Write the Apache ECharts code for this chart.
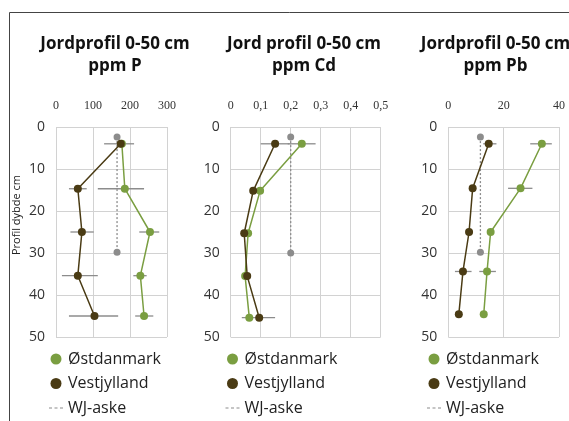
<!DOCTYPE html>
<html><head><meta charset="utf-8">
<script src="https://cdn.jsdelivr.net/npm/echarts@6/dist/echarts.min.js"></script>
<style>html,body{margin:0;padding:0;background:#fff}#c{width:569px;height:421px}</style>
</head><body><div id="c"></div>
<script>
// ---------- data ----------
const seriesNames = ['Østdanmark', 'Vestjylland', 'WJ-aske'];
const panelTitles = ['Jordprofil 0-50 cm\nppm P', 'Jord profil 0-50 cm\nppm Cd', 'Jordprofil 0-50 cm\nppm Pb'];
const yAxisTitle = 'Profil dybde cm';
const depthMin = 0, depthMax = 50, depthStep = 10;

// Panel P
const pXMax = 300, pXStep = 100;
const pDepth = [4, 14.7, 25, 35.4, 45];
const pOst = [178, 186, 254, 228, 238];
const pVest = [175, 59, 70, 59, 104];
const pAskeDepth = [2.4, 29.8];
const pAske = [165, 165];
const pOstLow = [null, 113, 225, 209, 214];
const pOstHigh = [null, 238, 279, 245, 263];
const pVestLow = [130, 35, 39, 16, 35];
const pVestHigh = [211, 83, 102, 113, 168];

// Panel Cd
const cdXMax = 0.5, cdXStep = 0.1;
const cdDepth = [4, 15.2, 25.3, 35.5, 45.4];
const cdOst = [0.237, 0.098, 0.058, 0.048, 0.062];
const cdVest = [0.148, 0.075, 0.045, 0.055, 0.095];
const cdAskeDepth = [2.4, 30];
const cdAske = [0.2, 0.2];
const cdOstLow = [0.19, null, null, 0.04, null];
const cdOstHigh = [0.283, null, null, 0.056, null];
const cdVestLow = [0.10, null, 0.036, null, 0.037];
const cdVestHigh = [0.196, null, 0.056, null, 0.148];

// Panel Pb
const pbXMax = 40, pbXStep = 20;
const pbDepth = [4, 14.6, 25, 34.4, 44.6];
const pbOst = [33.8, 26.1, 15.3, 14.0, 12.8];
const pbVest = [14.6, 8.8, 7.5, 5.3, 3.8];
const pbAskeDepth = [2.4, 29.8];
const pbAske = [11.6, 11.6];
const pbOstLow = [29.6, 21.6, null, 11.2, null];
const pbOstHigh = [37.4, 30.4, null, 17.2, null];
const pbVestLow = [12.6, null, null, 2.4, null];
const pbVestHigh = [17.4, null, null, 8.4, null];

// ---------- build ----------
const GREEN = '#7a9e41', BROWN = '#4a3b14', GRAY = '#8c8c8c';
const FONT = 'Open Sans';

const panels = [
  {title: panelTitles[0], tc: 115, left: 56, width: 111, max: pXMax, step: pXStep, depth: pDepth, ost: pOst, vest: pVest, askeD: pAskeDepth, aske: pAske, oL: pOstLow, oH: pOstHigh, vL: pVestLow, vH: pVestHigh, lm: 49},
  {title: panelTitles[1], tc: 304, left: 230.7, width: 150, max: cdXMax, step: cdXStep, depth: cdDepth, ost: cdOst, vest: cdVest, askeD: cdAskeDepth, aske: cdAske, oL: cdOstLow, oH: cdOstHigh, vL: cdVestLow, vH: cdVestHigh, lm: 225.5},
  {title: panelTitles[2], tc: 495.5, left: 448.3, width: 110.7, max: pbXMax, step: pbXStep, depth: pbDepth, ost: pbOst, vest: pbVest, askeD: pbAskeDepth, aske: pbAske, oL: pbOstLow, oH: pbOstHigh, vL: pbVestLow, vH: pbVestHigh, lm: 427}
];

function errRender(params, api) {
  const a = api.coord([api.value(0), api.value(2)]);
  const b = api.coord([api.value(1), api.value(2)]);
  return {type: 'line', shape: {x1: a[0], y1: a[1], x2: b[0], y2: b[1]}, style: {stroke: GRAY, lineWidth: 1.3}};
}
function errData(low, high, depth) {
  const out = [];
  for (let i = 0; i < depth.length; i++) if (low[i] != null) out.push([low[i], high[i], depth[i]]);
  return out;
}
function pairs(xs, ds) { return xs.map((v, i) => [v, ds[i]]); }

const grid = [], xAxis = [], yAxis = [], series = [], title = [], legend = [];
panels.forEach((p, k) => {
  grid.push({left: p.left, top: 127, width: p.width, height: 210});
  title.push({text: p.title, left: p.tc, top: 33, textAlign: 'center', padding: 0,
    textStyle: {fontFamily: FONT, fontSize: 17, fontWeight: 'bold', color: '#111', lineHeight: 22}});
  xAxis.push({gridIndex: k, type: 'value', position: 'top', min: 0, max: p.max, interval: p.step,
    axisLine: {show: false}, axisTick: {show: false},
    splitLine: {lineStyle: {color: '#d2d2d2', width: 1}},
    axisLabel: {fontFamily: 'Liberation Sans Narrow', fontSize: 12, color: '#333', margin: 15,
      formatter: v => String(Math.round(v * 1000) / 1000).replace('.', ',')}});
  yAxis.push({gridIndex: k, type: 'value', inverse: true, min: depthMin, max: depthMax, interval: depthStep,
    axisLine: {show: false}, axisTick: {show: false},
    splitLine: {lineStyle: {color: '#d2d2d2', width: 1}},
    axisLabel: {fontFamily: FONT, fontSize: 14, color: '#333', margin: 11}});
  series.push({type: 'custom', xAxisIndex: k, yAxisIndex: k, renderItem: errRender, encode: {x: [0, 1], y: 2},
    data: errData(p.oL, p.oH, p.depth), z: 1, silent: true});
  series.push({type: 'custom', xAxisIndex: k, yAxisIndex: k, renderItem: errRender, encode: {x: [0, 1], y: 2},
    data: errData(p.vL, p.vH, p.depth), z: 1, silent: true});
  series.push({name: seriesNames[2], type: 'line', xAxisIndex: k, yAxisIndex: k, data: pairs(p.aske, p.askeD),
    symbol: 'circle', symbolSize: 7, color: GRAY, itemStyle: {color: GRAY},
    lineStyle: {color: GRAY, width: 1.3, type: [2, 2]}, z: 2});
  series.push({name: seriesNames[0], type: 'line', xAxisIndex: k, yAxisIndex: k, data: pairs(p.ost, p.depth),
    symbol: 'circle', symbolSize: 8, color: GREEN, itemStyle: {color: GREEN},
    lineStyle: {color: GREEN, width: 1.5}, z: 3});
  series.push({name: seriesNames[1], type: 'line', xAxisIndex: k, yAxisIndex: k, data: pairs(p.vest, p.depth),
    symbol: 'circle', symbolSize: 8, color: BROWN, itemStyle: {color: BROWN},
    lineStyle: {color: BROWN, width: 1.5}, z: 4});
  legend.push({orient: 'vertical', left: p.lm, top: 350, padding: 0, itemGap: 6.5, itemWidth: 14, itemHeight: 11,
    selectedMode: false,
    textStyle: {fontFamily: FONT, fontSize: 16, color: '#222', lineHeight: 18},
    data: [
      {name: seriesNames[0], icon: 'circle'},
      {name: seriesNames[1], icon: 'circle'},
      {name: seriesNames[2], icon: 'path://M0,0h3v1h-3z M5.5,0h3v1h-3z M11,0h3v1h-3z'}
    ]});
});

const chart = echarts.init(document.getElementById('c'), null, {renderer: 'canvas'});
chart.setOption({
  animation: false,
  backgroundColor: '#fff',
  title, legend, grid, xAxis, yAxis, series,
  graphic: [
    {type: 'polyline', shape: {points: [[9.5, 430], [9.5, 12.5], [580, 12.5]]}, style: {stroke: '#444', lineWidth: 1, fill: null}, silent: true},
    {type: 'text', x: 17, y: 215, rotation: Math.PI / 2,
      style: {text: yAxisTitle, fontFamily: FONT, fontSize: 11, fill: '#222', align: 'center', verticalAlign: 'middle'}}
  ]
});
</script></body></html>
